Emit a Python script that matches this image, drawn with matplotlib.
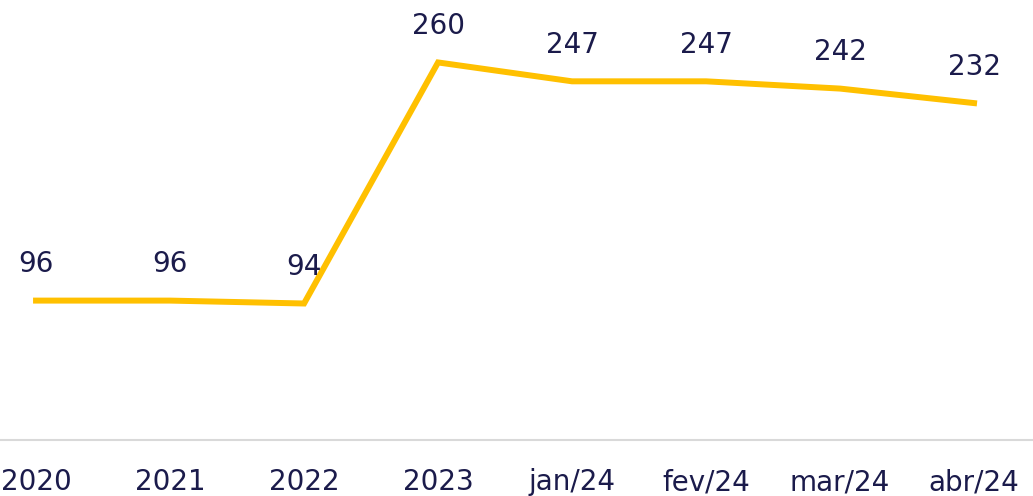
import matplotlib.pyplot as plt

# categorias e valores
meses = ['2020', '2021', '2022', '2023', 'jan/24', 'fev/24', 'mar/24', 'abr/24']
valores = [96, 96, 94, 260, 247, 247, 242, 232]

cor_linha = '#FFC000'
cor_texto = '#1B1B4B'
fonte = 'DejaVu Sans'
tam = 20

fig = plt.figure(figsize=(10.33, 4.96), dpi=100)
ax = fig.add_axes([0, 56 / 496, 1, 440 / 496])

x = list(range(len(meses)))
ax.plot(x, valores, color=cor_linha, linewidth=4.3, solid_joinstyle='miter')

for xi, v in zip(x, valores):
    ax.annotate(str(v), (xi, v), xytext=(0, 26), textcoords='offset points',
                ha='center', va='center', color=cor_texto, fontsize=tam, family=fonte)

ax.set_xlim(-0.269, 7.44)
ax.set_ylim(0, 303)
ax.set_xticks(x)
ax.set_xticklabels(meses, color=cor_texto, fontsize=tam, family=fonte)
ax.tick_params(axis='x', length=0, pad=20.5)
ax.set_yticks([])

for s in ['top', 'left', 'right']:
    ax.spines[s].set_visible(False)
ax.spines['bottom'].set_color('#D9D9D9')
ax.spines['bottom'].set_linewidth(1.5)

plt.savefig('out.png', dpi=100)
